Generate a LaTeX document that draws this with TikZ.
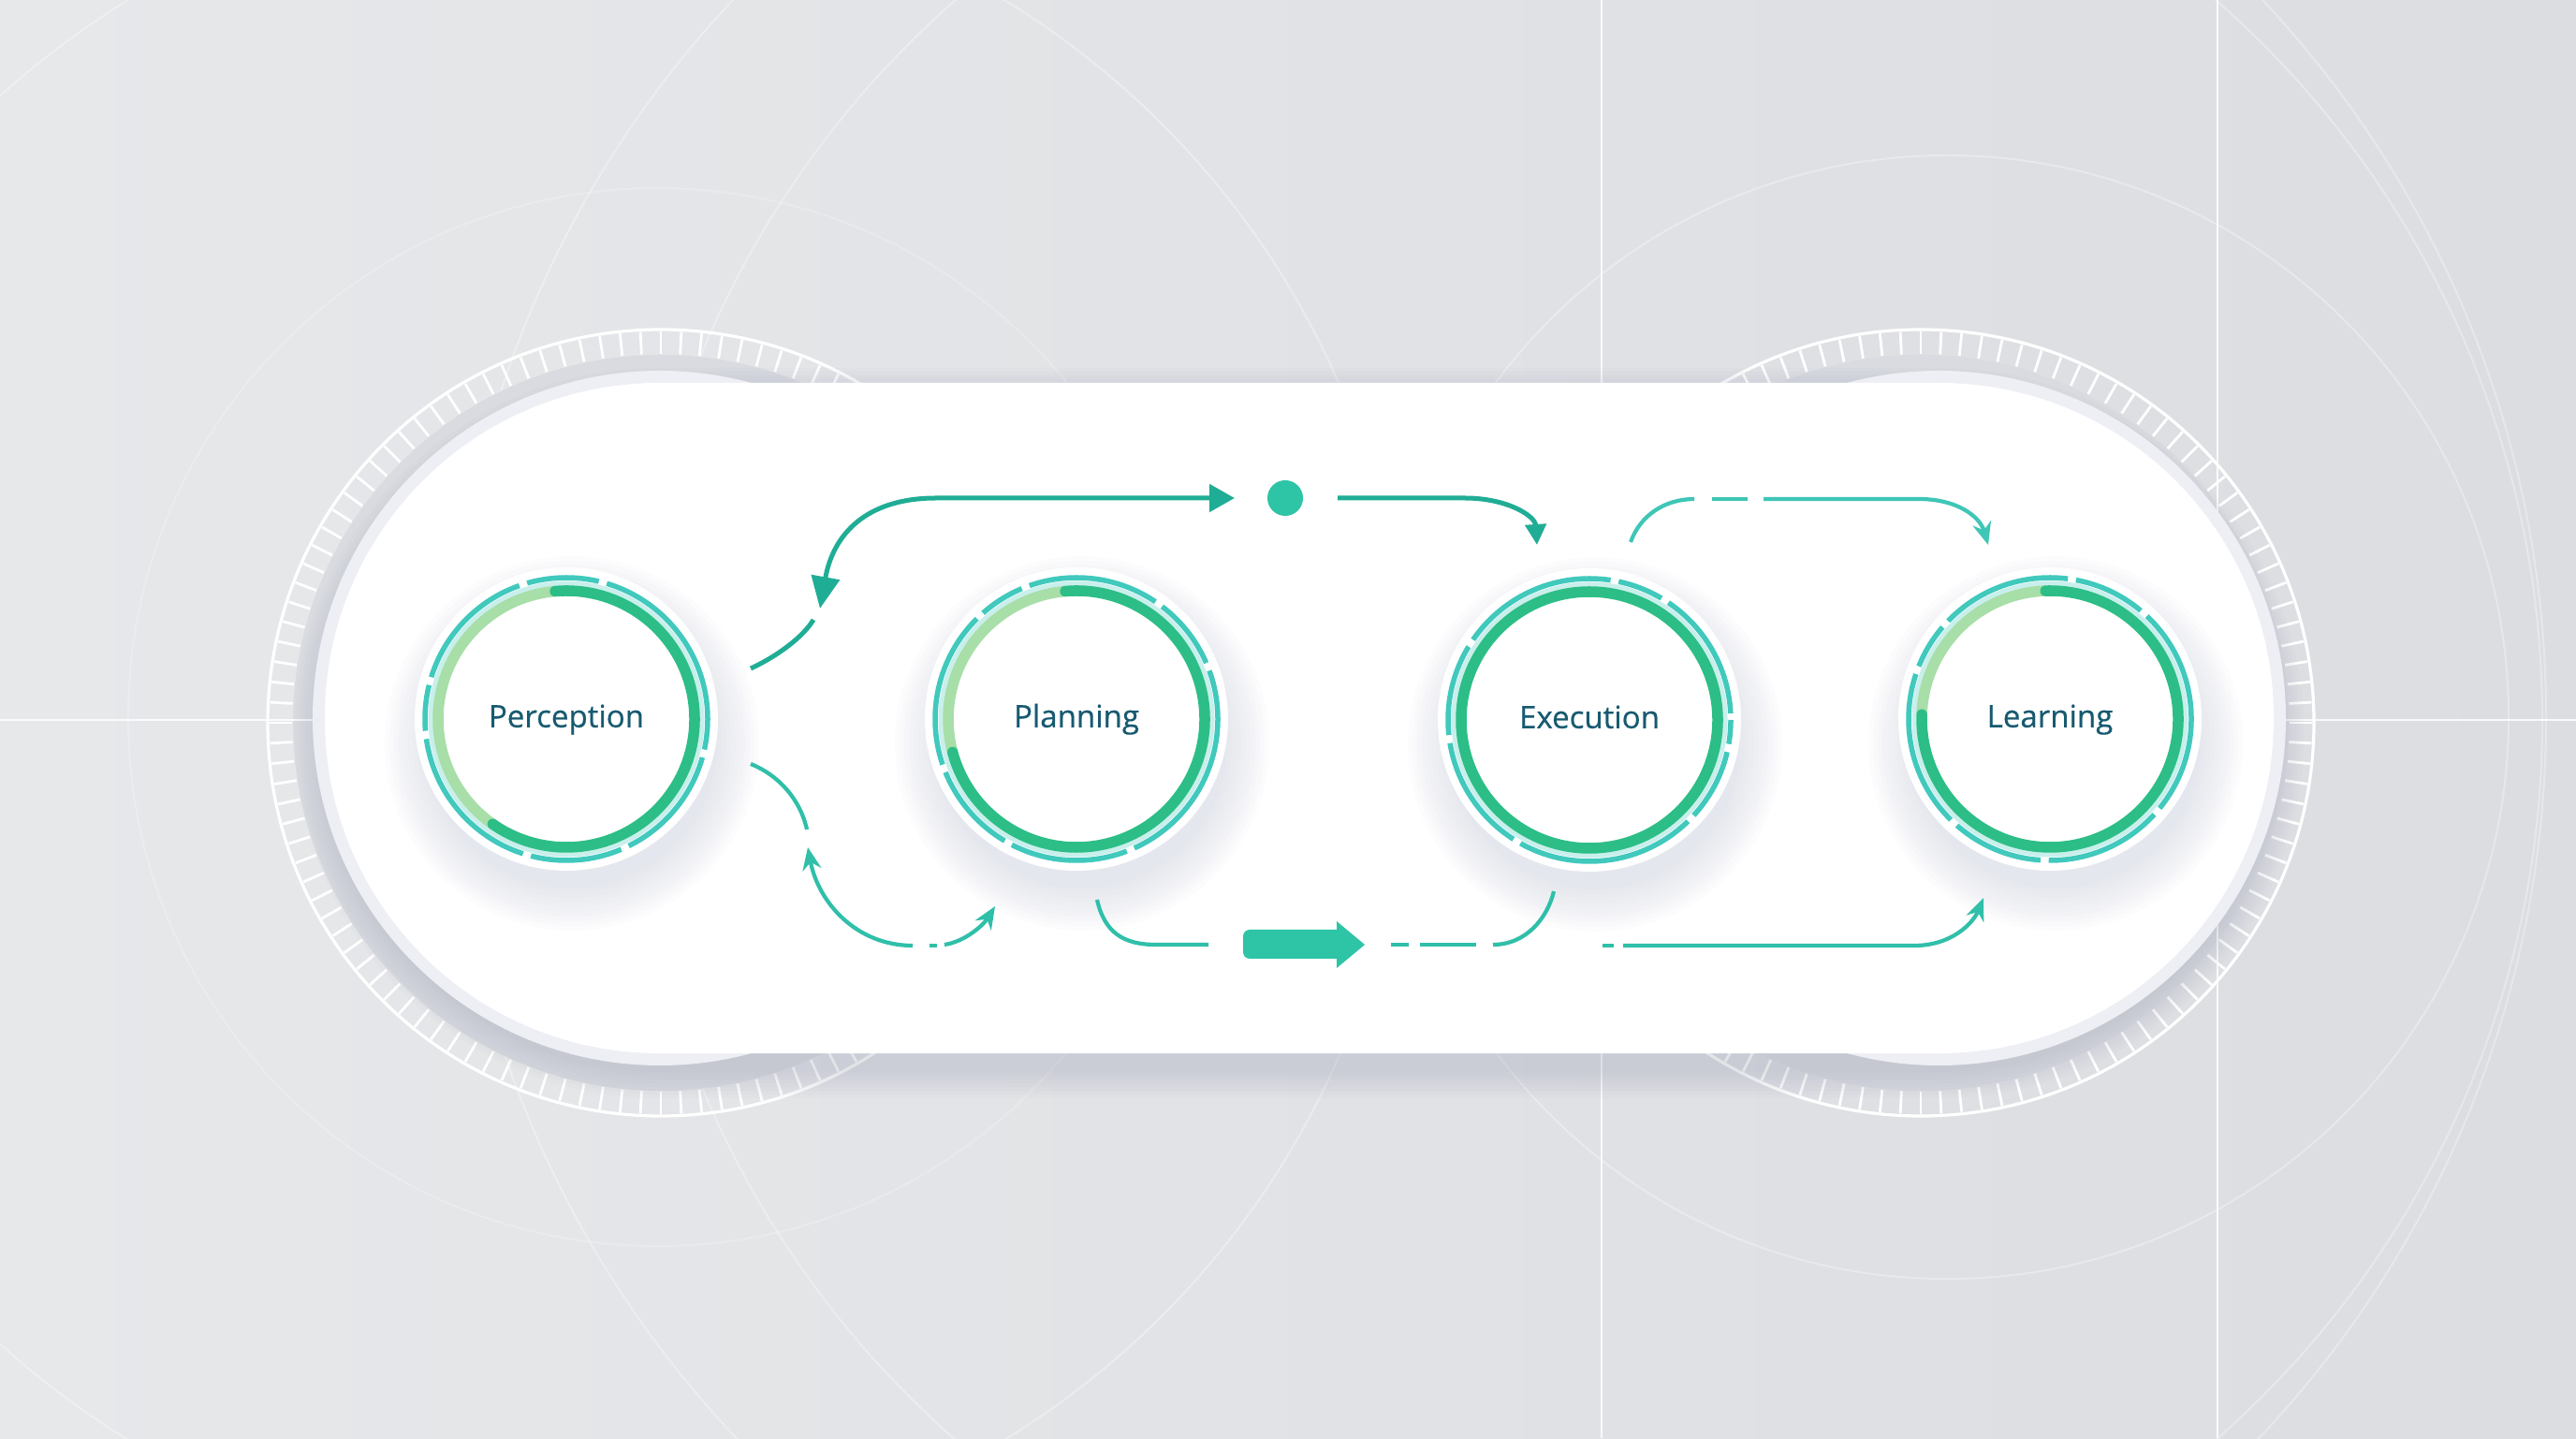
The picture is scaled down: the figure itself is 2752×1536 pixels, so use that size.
\documentclass[tikz,border=0pt]{standalone}
\usepackage{fontspec}
\setmainfont{Open Sans}
\newfontfamily\stagefont{Open Sans}[FakeBold=0.5]
\usetikzlibrary{arrows.meta}
\definecolor{cBgL}{HTML}{E7E8EA}
\definecolor{cBgR}{HTML}{DCDDE1}
\definecolor{cBand}{HTML}{D9DBE0}
\definecolor{cHalo}{HTML}{EDEFF4}
\definecolor{cPShad}{HTML}{8E94A8}
\definecolor{cShad}{HTML}{B0B5D3}
\definecolor{cArrowD}{HTML}{20AD95}
\definecolor{cArrowL}{HTML}{30BFA9}
\definecolor{cArrowM}{HTML}{3EC6B6}
\definecolor{cDot}{HTML}{2EC4A6}
\definecolor{cRingD}{HTML}{2CBE86}
\definecolor{cRingL}{HTML}{A8DEA8}
\definecolor{cDashR}{HTML}{40C9BC}
\definecolor{cPale}{HTML}{C9EFEC}
\definecolor{cTxt}{HTML}{175A70}
\begin{document}
\begin{tikzpicture}[x=0.01cm,y=0.01cm,
  tickmark/.style={white,line width=0.028cm},
  faint/.style={white,opacity=0.32,line width=0.02cm},
  gridline/.style={white,opacity=0.85,line width=0.022cm},
  stage/.style={circle,minimum size=2.6cm,inner sep=0pt,text height=7pt,text depth=2pt,font=\stagefont\fontsize{9.4}{11}\selectfont,text=cTxt},
  connD/.style={cArrowD,line width=0.05cm},
  connL/.style={cArrowL,line width=0.042cm},
  connM/.style={cArrowM,line width=0.042cm},
  dotn/.style={circle,fill=cDot,minimum size=0.38cm,inner sep=0pt},
  ringdash/.style={cDashR,line width=0.055cm,dash pattern=on 55pt off 2.5pt on 22pt off 2.5pt on 40pt off 2.5pt on 14pt off 2.5pt on 48pt off 2.5pt on 28pt off 2.5pt on 36pt off 2.5pt}
]
\useasboundingbox (0,0) rectangle (2752,1536);
\clip (0,0) rectangle (2752,1536);
% background
\shade[left color=cBgL,right color=cBgR] (0,0) rectangle (2752,1536);
% faint background circles
\draw[faint] (1694,767) circle (1022);
\draw[faint] (2080,770) circle (600);
\draw[faint,opacity=0.22] (702,770) circle (565);
\draw[faint] (1600,770) circle (1120);
\draw[faint] (605,767) circle (900);
% tick rings
\coordinate (ringL) at (706,764);
\coordinate (ringR) at (2052,764);
\foreach \rc in {ringL,ringR}{
  \fill[cBand] (\rc) circle (393);
  \foreach \a in {0,3,...,357}
    \draw[tickmark] (\rc) ++(\a:394) -- ++(\a:24);
  \draw[white,line width=0.032cm] (\rc) circle (420);
}
% grid lines
\draw[gridline] (1711,0) -- (1711,1536);
\draw[gridline] (2369,0) -- (2369,1536);
\draw[gridline] (0,767) -- (2752,767);
% pill shadow, halo, pill
\foreach \i in {1,...,8}{
  \pgfmathsetmacro\rr{(357+4*\i)/100}
  \fill[cPShad,opacity=0.03,rounded corners=\rr cm] (347-4*\i,411-16-4*\i) rectangle (2429+4*\i,1127-16+4*\i);
}
\fill[cHalo] (705,769) circle (371);
\fill[cHalo] (2071,769) circle (371);
\fill[white,rounded corners=3.57cm] (347,411) rectangle (2429,1127);
% stage centres
\coordinate (cPerc) at (605,768);
\coordinate (cPlan) at (1150,768);
\coordinate (cExec) at (1698,767);
\coordinate (cLearn) at (2190,768);
% stage shadows and rings
\foreach \c/\ls/\le/\ph in {cPerc/95/235/0, cPlan/95/195/40, cExec/90/90/80, cLearn/92/178/20}{
  \foreach \k in {0,...,9}
    \fill[cShad,opacity=0.032] ([shift={(6,-26)}]\c) circle (200-5*\k);
  \fill[white] (\c) circle (162);
  \draw[cPale,line width=0.07cm] (\c) circle (144);
  \draw[ringdash,dash phase=\ph pt] (\c) circle (151);
  \pgfmathsetmacro\de{\le-360}
  \draw[cRingL,line width=0.115cm] (\c) ++(\ls:137) arc[start angle=\ls,end angle=\le,radius=137];
  \draw[cRingD,line width=0.115cm,line cap=round] (\c) ++(\ls:137) arc[start angle=\ls,end angle=\de,radius=137];
}
% stage nodes
\node[stage] (perc) at (cPerc) {Perception};
\node[stage] (plan) at (cPlan) {Planning};
\node[stage] (exec) at (cExec) {Execution};
\node[stage] (learn) at (cLearn) {Learning};
% A1: top-left double arrow
\coordinate (a1t) at (876,886);
\coordinate (a1e) at (1319,1004);
\draw[connD,{Triangle[length=0.34cm,width=0.3cm]}-{Triangle[length=0.27cm,width=0.29cm]}]
  (a1t) .. controls (890,965) and (925,1004) .. (1000,1004) -- (a1e);
\coordinate (a1s) at (802,822);
\draw[connD] (a1s) .. controls (832,836) and (858,856) .. (869,874);
% A2: dot to execution
\node[dotn] (dot) at (1373,1004) {};
\coordinate (a2s) at (1429,1004);
\coordinate (a2e) at (1642,954);
\draw[connD,-{Triangle[length=0.22cm,width=0.22cm]}] (a2s) -- (1565,1004) .. controls (1610,1004) and (1640,985) .. (a2e);
% A3: execution to learning (top)
\coordinate (a3s) at (1742,957);
\coordinate (a3e) at (2124,954);
\draw[connM] (a3s) .. controls (1752,985) and (1778,1003) .. (1810,1003);
\draw[connM] (1829,1003) -- (1867,1003);
\draw[connM,-{Stealth[length=0.24cm,width=0.2cm]}] (1884,1003) -- (2050,1003) .. controls (2090,1003) and (2115,985) .. (a3e);
% A4: perception lower
\coordinate (a4s) at (802,720);
\draw[connL] (a4s) .. controls (832,708) and (855,682) .. (862,650);
\coordinate (a4t) at (863,631);
\draw[connL,{Stealth[length=0.24cm,width=0.2cm]}-] (a4t) .. controls (874,572) and (915,526) .. (975,526);
\draw[connL] (993,526) -- (1001,526);
\coordinate (a4e) at (1063,568);
\draw[connL,-{Stealth[length=0.24cm,width=0.2cm]}] (1009,527) .. controls (1030,530) and (1050,547) .. (a4e);
% A5: planning bottom to block arrow
\coordinate (a5s) at (1172,575);
\draw[connL] (a5s) .. controls (1180,540) and (1200,527) .. (1235,527) -- (1291,527);
\fill[cDot,rounded corners=0.07cm] (1328,512) rectangle (1434,543);
\fill[cDot] (1428,552) -- (1458,527) -- (1428,502) -- cycle;
\draw[connL] (1486,527) -- (1505,527);
\draw[connL] (1517,527) -- (1577,527);
\coordinate (a5e) at (1660,584);
\draw[connL] (1595,527) .. controls (1630,527) and (1653,555) .. (a5e);
% A6: to learning (bottom)
\draw[connL] (1712,526) -- (1724,526);
\coordinate (a6e) at (2119,577);
\draw[connL,-{Stealth[length=0.24cm,width=0.2cm]}] (1734,526) -- (2045,526) .. controls (2085,526) and (2108,550) .. (a6e);
\end{tikzpicture}
\end{document}
